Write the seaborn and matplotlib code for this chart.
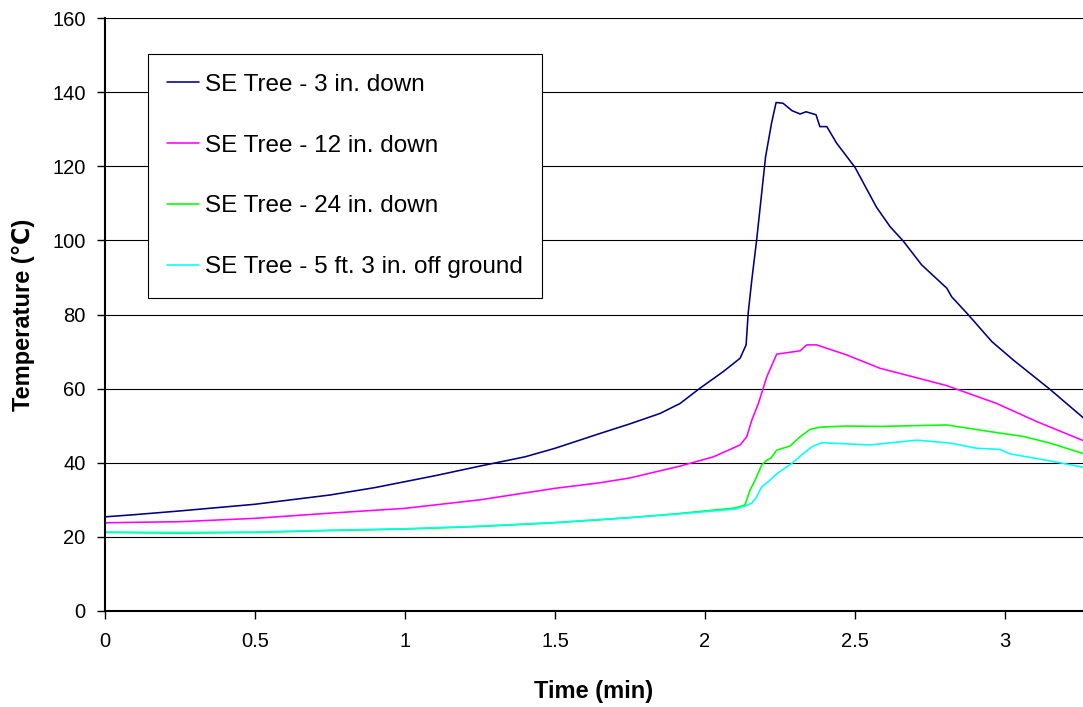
import matplotlib
matplotlib.use("Agg")
import matplotlib.pyplot as plt
import seaborn as sns
import pandas as pd

labels = ["SE Tree - 3 in. down", "SE Tree - 12 in. down",
          "SE Tree - 24 in. down", "SE Tree - 5 ft. 3 in. off ground"]
colors = ["#000080", "#FF00FF", "#00FF00", "#00FFFF"]

t_3in = [0, 0.1, 0.25, 0.5, 0.75, 0.9, 1.0, 1.1, 1.25, 1.4, 1.5, 1.65, 1.75, 1.85,
         1.917, 1.983, 2.061, 2.117, 2.137, 2.144, 2.156, 2.172, 2.202, 2.222, 2.237,
         2.26, 2.29, 2.317, 2.337, 2.37, 2.383, 2.406, 2.439, 2.5, 2.572, 2.617, 2.661,
         2.722, 2.806, 2.822, 2.878, 2.956, 3.028, 3.15, 3.26]
v_3in = [25.4, 26.0, 27.0, 28.8, 31.3, 33.3, 34.9, 36.5, 39.1, 41.6, 43.9, 47.9, 50.5, 53.3,
         56.0, 60.1, 64.6, 68.2, 71.8, 80.4, 89.3, 100.0, 122.6, 131.7, 137.2,
         137.0, 135.0, 134.1, 134.7, 133.9, 130.7, 130.7, 126.2, 119.7, 108.9, 103.7, 99.8,
         93.4, 87.1, 84.8, 79.9, 72.7, 67.7, 59.8, 52.2]

t_12in = [0, 0.25, 0.5, 0.75, 1.0, 1.25, 1.5, 1.65, 1.75, 1.917, 2.028, 2.117, 2.139,
          2.156, 2.178, 2.206, 2.239, 2.317, 2.339, 2.372, 2.394, 2.472, 2.583, 2.65,
          2.806, 2.972, 3.106, 3.26]
v_12in = [23.8, 24.1, 25.0, 26.4, 27.7, 30.0, 33.1, 34.6, 35.9, 39.1, 41.6, 44.8, 47.0,
          51.5, 56.0, 63.2, 69.3, 70.2, 71.8, 71.8, 71.2, 69.1, 65.5, 64.1,
          60.8, 56.0, 51.1, 46.0]

t_24in = [0, 0.25, 0.5, 0.75, 1.0, 1.25, 1.5, 1.65, 1.75, 1.9, 2.0, 2.1, 2.133, 2.15,
          2.167, 2.189, 2.206, 2.219, 2.239, 2.283, 2.317, 2.35, 2.383, 2.472, 2.583,
          2.806, 2.95, 3.061, 3.15, 3.26]
v_24in = [21.2, 21.0, 21.2, 21.7, 22.1, 22.8, 23.8, 24.6, 25.2, 26.2, 27.0, 27.8, 28.6, 32.6,
          35.3, 39.4, 40.7, 41.2, 43.4, 44.5, 47.0, 49.0, 49.6, 49.9, 49.8,
          50.2, 48.4, 47.1, 45.3, 42.5]

t_5ft = [0, 0.25, 0.5, 0.75, 1.0, 1.25, 1.5, 1.65, 1.75, 1.9, 2.0, 2.1, 2.133, 2.156,
         2.172, 2.189, 2.211, 2.239, 2.289, 2.322, 2.356, 2.389, 2.472, 2.55, 2.706,
         2.817, 2.906, 2.983, 3.017, 3.15, 3.26]
v_5ft = [21.3, 21.2, 21.3, 21.8, 22.2, 22.9, 23.9, 24.7, 25.2, 26.1, 26.8, 27.5, 28.3, 29.1,
         30.8, 33.5, 34.9, 37.0, 39.8, 42.1, 44.3, 45.4, 45.1, 44.8, 46.1,
         45.3, 43.9, 43.6, 42.4, 40.5, 38.8]

x_ticks = [0, 0.5, 1, 1.5, 2, 2.5, 3]
x_tick_labels = ["0", "0.5", "1", "1.5", "2", "2.5", "3"]
y_ticks = [0, 20, 40, 60, 80, 100, 120, 140, 160]

frames = []
for lab, t, v in zip(labels, [t_3in, t_12in, t_24in, t_5ft], [v_3in, v_12in, v_24in, v_5ft]):
    frames.append(pd.DataFrame({"Time": t, "Temp": v, "Series": lab}))
df = pd.concat(frames, ignore_index=True)

sns.set_style("white")
plt.rcParams['font.family'] = ['Liberation Sans', 'DejaVu Sans']
plt.rcParams['text.color'] = 'black'
plt.rcParams['axes.labelcolor'] = 'black'
plt.rcParams['xtick.color'] = 'black'
plt.rcParams['ytick.color'] = 'black'

fig = plt.figure(figsize=(10.83, 7.07), dpi=100)
ax = fig.add_axes([105 / 1083, 1 - 611 / 707, 978 / 1083, 593 / 707])

sns.lineplot(data=df, x="Time", y="Temp", hue="Series", hue_order=labels,
             palette=dict(zip(labels, colors)), estimator=None, sort=False,
             linewidth=1.15, ax=ax, legend=True)

ax.set_xlim(0, 3.26)
ax.set_ylim(0, 160)
ax.set_xticks(x_ticks)
ax.set_xticklabels(x_tick_labels)
ax.set_yticks(y_ticks)
ax.tick_params(axis='both', labelsize=14.5, direction='out', length=6, width=1,
               color='black', labelcolor='black', bottom=True, left=True)
ax.tick_params(axis='x', pad=9)
ax.tick_params(axis='y', pad=8)
ax.yaxis.grid(True, color='black', linewidth=0.8)
ax.xaxis.grid(False)
ax.set_axisbelow(True)
for s in ['top', 'right']:
    ax.spines[s].set_visible(False)
for s in ['left', 'bottom']:
    ax.spines[s].set_color('black')
    ax.spines[s].set_linewidth(1.5)

ax.set_xlabel("Time (min)", fontsize=17, fontweight='bold', labelpad=21, color='black')
ax.set_ylabel("Temperature (\u2103)", fontsize=17, fontweight='bold', labelpad=12.5,
              color='black')

leg = ax.legend(loc='upper left', bbox_to_anchor=(0.044, 0.939), fontsize=17.5,
                frameon=True, fancybox=False, edgecolor='black', framealpha=1,
                handlelength=1.3, handletextpad=0.25, labelspacing=1.6,
                borderpad=0.8, borderaxespad=0)
leg.get_frame().set_linewidth(0.8)
for line in leg.get_lines():
    line.set_linewidth(1.15)
for txt in leg.get_texts():
    txt.set_color('black')

fig.savefig("out.png", dpi=100)
